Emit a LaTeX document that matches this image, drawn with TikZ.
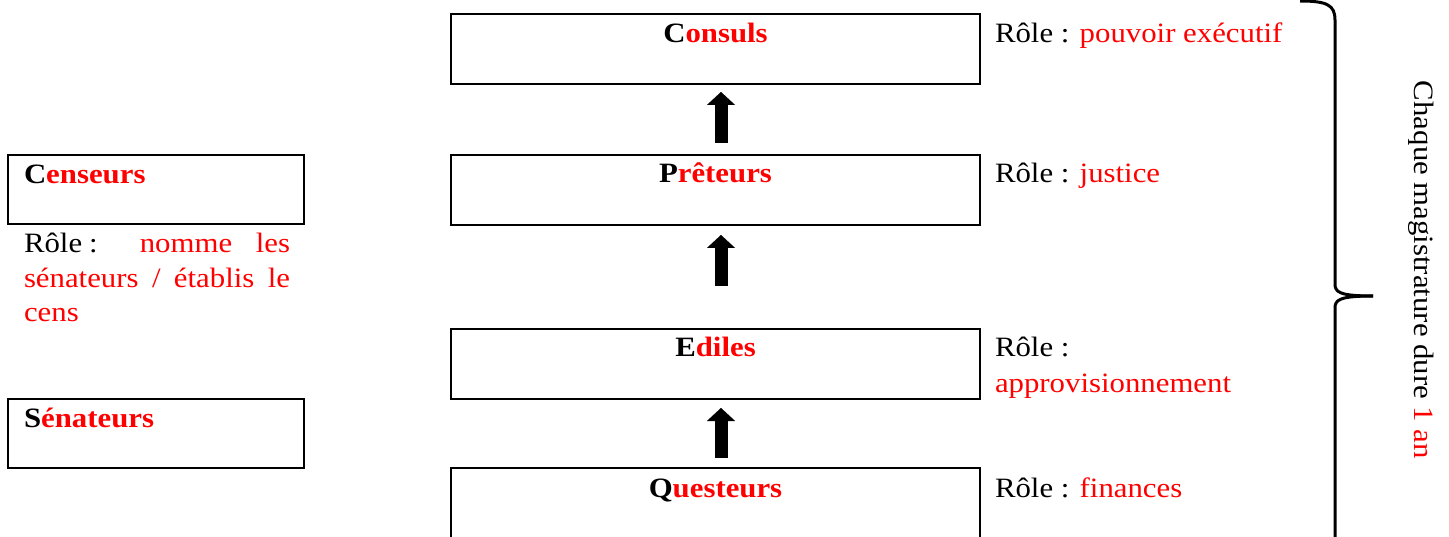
\documentclass[tikz,border=0pt]{standalone}
\usepackage{fontspec}
\setmainfont{Liberation Serif}[FakeStretch=1.1]
\usetikzlibrary{arrows.meta}
\definecolor{rr}{RGB}{255,0,0}
\begin{document}
\begin{tikzpicture}[x=1pt,y=-1pt,
  every node/.style={inner sep=0pt, outer sep=0pt},
  txt/.style={font=\fontsize{28}{35}\selectfont},
  title/.style={font=\fontsize{28}{35}\selectfont\bfseries, anchor=base},
  bigbox/.style={draw, line width=2.6pt, minimum width=529pt, minimum height=70pt},
  smallbox/.style={draw, line width=2.6pt, minimum width=296pt, minimum height=69pt},
  bigarrow/.style={line width=13pt, -{Triangle[width=28pt,length=13pt,line width=0.01pt]}},
  bracepath/.style={line width=3pt}]
\useasboundingbox (0,0) rectangle (1449,537);
\clip (0,0) rectangle (1449,537);
% main column
\node[bigbox] (consuls) at (715.5,49) {};
\node[bigbox] (preteurs) at (715.5,190) {};
\node[bigbox] (ediles) at (715.5,364) {};
\node[bigbox, minimum height=92pt] (questeurs) at (715.5,514) {};
\node[title] (tconsuls) at (715.5,43) {C\textcolor{rr}{onsuls}};
\node[title] (tpreteurs) at (715.5,183) {P\textcolor{rr}{rêteurs}};
\node[title] (tediles) at (715.5,357) {E\textcolor{rr}{diles}};
\node[title] (tquesteurs) at (715.5,497) {Q\textcolor{rr}{uesteurs}};
% arrows
\draw[bigarrow, shorten <=12pt, shorten >=8pt] ([xshift=5.5pt]preteurs.north) -- ([xshift=5.5pt]consuls.south);
\draw[bigarrow, shorten <=43pt, shorten >=10pt] ([xshift=5.5pt]ediles.north) -- ([xshift=5.5pt]preteurs.south);
\draw[bigarrow, shorten <=10pt, shorten >=9pt] ([xshift=5.5pt]questeurs.north) -- ([xshift=5.5pt]ediles.south);
% roles right
\node[txt, anchor=base west] (rconsuls) at (995,43) {Rôle~: \textcolor{rr}{pouvoir exécutif}};
\node[txt, anchor=base west] (rpreteurs) at (995,183) {Rôle~: \textcolor{rr}{justice}};
\node[txt, anchor=base west] (rediles1) at (995,357) {Rôle~:};
\node[txt, anchor=base west] (rediles2) at (995,392) {\textcolor{rr}{approvisionnement}};
\node[txt, anchor=base west] (rquesteurs) at (995,497) {Rôle~: \textcolor{rr}{finances}};
% left column
\node[smallbox] (censeurs) at (156,189.5) {};
\node[title, anchor=base west] (tcenseurs) at (24,184) {C\textcolor{rr}{enseurs}};
\node[txt, anchor=base west] (rcens1) at (24,253) {\makebox[266pt][s]{Rôle\hspace{7pt}: \textcolor{rr}{nomme} \textcolor{rr}{les}}};
\node[txt, anchor=base west] (rcens2) at (24,288) {\makebox[266pt][s]{\color{rr}sénateurs / établis le}};
\node[txt, anchor=base west] (rcens3) at (24,322) {\textcolor{rr}{cens}};
\node[smallbox] (senateurs) at (156,433.5) {};
\node[title, anchor=base west] (tsenateurs) at (24,427) {S\textcolor{rr}{énateurs}};
% brace
\coordinate (btop) at (1300,1);
\coordinate (btip) at (1373,296);
\coordinate (bbot) at (1335,600);
\draw[bracepath] (btop) .. controls (1327,1) and (1335,5) .. (1335,20) -- (1335,284) .. controls (1335,292) and (1339,296) .. (btip);
\draw[bracepath] (btip) .. controls (1339,296) and (1335,300) .. (1335,308) -- (bbot);
% rotated text
\node[txt, rotate=-90] (duree) at (1421,270) {Chaque magistrature dure \textcolor{rr}{1 an}};
\end{tikzpicture}
\end{document}
